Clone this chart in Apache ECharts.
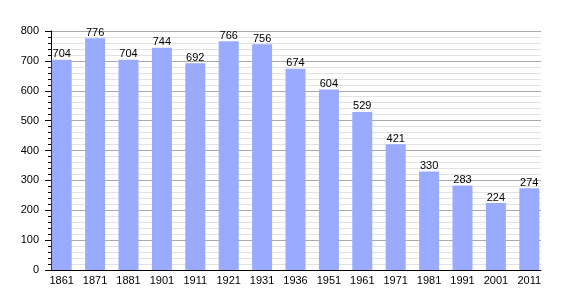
<!DOCTYPE html>
<html><head><meta charset="utf-8">
<script src="https://cdn.jsdelivr.net/npm/echarts@6/dist/echarts.min.js"></script>
<style>html,body{margin:0;padding:0;background:#fff}#c{width:570px;height:300px}</style>
</head><body><div id="c"></div>
<script>
const years = ['1861','1871','1881','1901','1911','1921','1931','1936','1951','1961','1971','1981','1991','2001','2011'];
const population = [704,776,704,744,692,766,756,674,604,529,421,330,283,224,274];
const yMin = 0, yMax = 800, yStep = 100;

const chart = echarts.init(document.getElementById('c'), null, {renderer:'canvas'});
const font = {fontFamily:'Liberation Sans, Arial, sans-serif', fontSize:11, color:'#000'};
chart.setOption({
  animation:false,
  backgroundColor:'#fff',
  grid:[
    {left:51, right:29, top:31, bottom:30},
    {left:45, right:24, top:31, bottom:30}
  ],
  xAxis:[
    {gridIndex:0, type:'category', data:years, axisLine:{lineStyle:{color:'#000',width:1}}, axisTick:{show:false}, axisLabel:{show:false}, splitLine:{show:false}},
    {gridIndex:1, type:'category', data:years, axisLine:{show:false}, axisTick:{show:false},
     axisLabel:Object.assign({margin:5}, font)}
  ],
  yAxis:[
    {gridIndex:0, type:'value', min:yMin, max:yMax, interval:yStep,
     axisLine:{show:true, lineStyle:{color:'#000'}},
     axisTick:{show:true, length:6, inside:false, lineStyle:{color:'#000'}},
     minorTick:{show:true, splitNumber:5, length:3, lineStyle:{color:'#000'}},
     splitLine:{show:true, lineStyle:{color:'#aaaaaa', width:1}},
     minorSplitLine:{show:true, lineStyle:{color:'#e2e2e2', width:1}},
     axisLabel:Object.assign({margin:12}, font)},
    {gridIndex:1, type:'value', min:yMin, max:yMax, interval:yStep, show:false}
  ],
  series:[{
    type:'bar', xAxisIndex:1, yAxisIndex:1, data:population, barWidth:20,
    itemStyle:{color:'#99aaff'},
    label:{show:true, position:'top', distance:0, fontFamily:font.fontFamily, fontSize:11, color:'#000'}
  }]
});
</script></body></html>
